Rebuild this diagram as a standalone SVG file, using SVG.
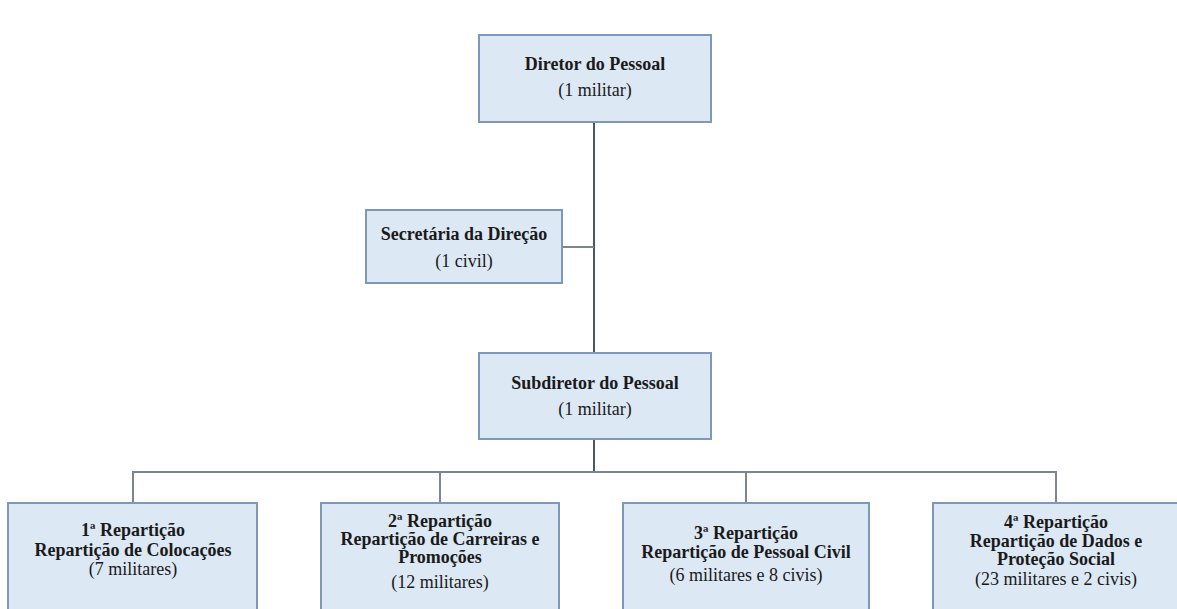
<svg xmlns="http://www.w3.org/2000/svg" width="1177" height="609" viewBox="0 0 1177 609">
<style>
.box{fill:#dde8f5;stroke:#7f98b8;stroke-width:2}
.t{font-family:'Liberation Serif','DejaVu Serif',serif;font-size:18px;fill:#1a1a1a;text-anchor:middle}
.b{font-weight:bold}
.v{stroke:#4c566a;stroke-width:2;fill:none}
.h{stroke:#7d8593;stroke-width:2;fill:none}
</style>
<rect width="1177" height="609" fill="#ffffff"/>
<g id="connectors">
<line class="v" x1="594" y1="122" x2="594" y2="353"/>
<line class="h" x1="562" y1="247" x2="594" y2="247"/>
<line class="v" x1="594" y1="439" x2="594" y2="472"/>
<polyline class="h" points="133,503 133,472 1056,472 1056,503"/>
<line class="h" x1="440" y1="472" x2="440" y2="503"/>
<line class="h" x1="746" y1="472" x2="746" y2="503"/>
</g>
<g id="diretor">
<rect class="box" x="479" y="35" width="232" height="87"/>
<text class="t b" x="595" y="70">Diretor do Pessoal</text>
<text class="t" x="595" y="96">(1 militar)</text>
</g>
<g id="secretaria">
<rect class="box" x="366" y="210" width="196" height="73"/>
<text class="t b" x="464" y="240">Secretária da Direção</text>
<text class="t" x="464" y="267">(1 civil)</text>
</g>
<g id="subdiretor">
<rect class="box" x="479" y="353" width="232" height="86"/>
<text class="t b" x="595" y="389">Subdiretor do Pessoal</text>
<text class="t" x="595" y="415">(1 militar)</text>
</g>
<g id="rep1">
<rect class="box" x="8" y="503" width="249" height="120"/>
<text class="t b" x="133" y="536">1ª Repartição</text>
<text class="t b" x="133" y="556">Repartição de Colocações</text>
<text class="t" x="133" y="575">(7 militares)</text>
</g>
<g id="rep2">
<rect class="box" x="321" y="503" width="238" height="120"/>
<text class="t b" x="440" y="527">2ª Repartição</text>
<text class="t b" x="440" y="545">Repartição de Carreiras e</text>
<text class="t b" x="440" y="563">Promoções</text>
<text class="t" x="440" y="588">(12 militares)</text>
</g>
<g id="rep3">
<rect class="box" x="623" y="503" width="246" height="120"/>
<text class="t b" x="746" y="539">3ª Repartição</text>
<text class="t b" x="746" y="558">Repartição de Pessoal Civil</text>
<text class="t" x="746" y="581">(6 militares e 8 civis)</text>
</g>
<g id="rep4">
<rect class="box" x="933" y="503" width="250" height="120"/>
<text class="t b" x="1056" y="528">4ª Repartição</text>
<text class="t b" x="1056" y="547">Repartição de Dados e</text>
<text class="t b" x="1056" y="565">Proteção Social</text>
<text class="t" x="1056" y="585">(23 militares e 2 civis)</text>
</g>
</svg>
